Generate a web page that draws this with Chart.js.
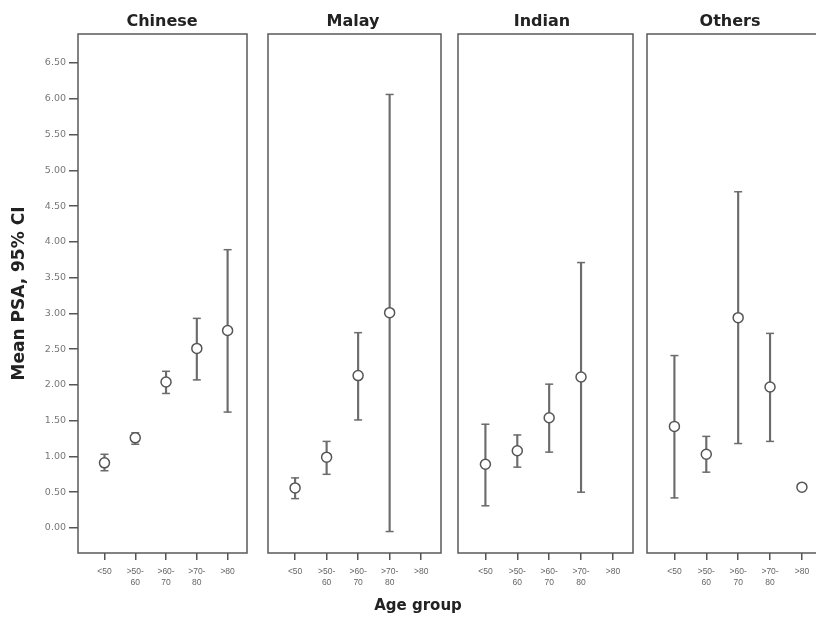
<!DOCTYPE html>
<html>
<head>
<meta charset="utf-8">
<script src="https://cdn.jsdelivr.net/npm/chart.js@4.4.1/dist/chart.umd.min.js"></script>
<style>
  body { margin: 0; width: 816px; height: 621px; overflow: hidden; background: #fff; position: relative; font-family: "DejaVu Sans", sans-serif; }
  .panel { position: absolute; top: 0; height: 621px; }
  .title { position: absolute; top: 11px; font-weight: bold; font-size: 16px; color: #222; transform: translateX(-50%); white-space: nowrap; }
  #xtitle { position: absolute; left: 418px; top: 596px; transform: translateX(-50%); font-weight: bold; font-size: 15px; color: #222; }
</style>
</head>
<body>
<div class="panel" style="left:0;width:250px"><canvas id="c0"></canvas></div>
<div class="panel" style="left:263px;width:183px"><canvas id="c1"></canvas></div>
<div class="panel" style="left:453px;width:185px"><canvas id="c2"></canvas></div>
<div class="panel" style="left:642px;width:185px"><canvas id="c3"></canvas></div>
<div class="title" style="left:162px">Chinese</div>
<div class="title" style="left:353px">Malay</div>
<div class="title" style="left:542px">Indian</div>
<div class="title" style="left:730px">Others</div>
<div id="xtitle">Age group</div>
<script>
// Age group labels (x axis)
const ageGroups = [['<50'], ['>50-', '60'], ['>60-', '70'], ['>70-', '80'], ['>80']];
const yTicks = [0, 0.5, 1, 1.5, 2, 2.5, 3, 3.5, 4, 4.5, 5, 5.5, 6, 6.5];

// Mean PSA and 95% CI per ethnic group
const chineseMean = [0.91, 1.26, 2.04, 2.51, 2.76];
const chineseLow  = [0.80, 1.17, 1.88, 2.07, 1.62];
const chineseHigh = [1.03, 1.33, 2.19, 2.93, 3.89];

const malayMean = [0.56, 0.99, 2.13, 3.01, null];
const malayLow  = [0.41, 0.75, 1.51, -0.05, null];
const malayHigh = [0.70, 1.21, 2.73, 6.06, null];

const indianMean = [0.89, 1.08, 1.54, 2.11, null];
const indianLow  = [0.31, 0.85, 1.06, 0.50, null];
const indianHigh = [1.45, 1.30, 2.01, 3.71, null];

const othersMean = [1.42, 1.03, 2.94, 1.97, 0.57];
const othersLow  = [0.42, 0.78, 1.18, 1.21, null];
const othersHigh = [2.41, 1.28, 4.70, 2.72, null];

Chart.defaults.font.family = '"Liberation Sans", Arial, sans-serif';
Chart.defaults.animation = false;

const lineColor = '#6c6c6c';

// panel frame around the plot area
const framePlugin = {
  id: 'frame',
  afterDraw(chart) {
    const a = chart.chartArea;
    const ctx = chart.ctx;
    ctx.save();
    ctx.strokeStyle = '#5a5a5a';
    ctx.lineWidth = 1.5;
    ctx.strokeRect(a.left, a.top, a.right - a.left, a.bottom - a.top);
    ctx.restore();
  }
};

function makePanel(id, mean, low, high, showY, pad) {
  const bars = [], caps = [], points = [];
  mean.forEach((m, i) => {
    if (m !== null) points.push({ x: i, y: m });
    if (low[i] !== null && high[i] !== null) {
      bars.push({ x: i, y: [low[i], high[i]] });
      caps.push({ x: i, y: low[i] }, { x: i, y: high[i] });
    }
  });

  new Chart(document.getElementById(id), {
    type: 'scatter',
    data: {
      datasets: [
        { type: 'bar', data: bars, backgroundColor: lineColor, barThickness: 1.5, order: 2 },
        { data: caps, pointStyle: 'line', pointRadius: 4, borderColor: lineColor, borderWidth: 1.5, order: 1 },
        { data: points, pointStyle: 'circle', pointRadius: 5, backgroundColor: '#fff', borderColor: '#555', borderWidth: 1.5, order: 0 }
      ]
    },
    options: {
      responsive: true,
      maintainAspectRatio: false,
      layout: { padding: pad, autoPadding: false },
      plugins: { legend: { display: false }, tooltip: { enabled: false } },
      scales: {
        x: {
          type: 'linear',
          offset: false,
          min: -0.86,
          max: 4.63,
          afterBuildTicks: (scale) => { scale.ticks = ageGroups.map((g, i) => ({ value: i })); },
          afterFit: (scale) => { scale.height = 68; scale.paddingLeft = 0; scale.paddingRight = 0; },
          border: { display: false },
          grid: { offset: false, drawOnChartArea: false, tickLength: 7, color: '#555', lineWidth: 1.5 },
          ticks: {
            color: '#666',
            font: { size: 8.5 },
            padding: 7,
            maxRotation: 0,
            autoSkip: false,
            callback: (v) => ageGroups[v]
          }
        },
        y: {
          display: showY,
          min: -0.35,
          max: 6.905,
          afterBuildTicks: (scale) => { scale.ticks = yTicks.map(v => ({ value: v })); },
          afterFit: (scale) => { if (showY) scale.width = 78; },
          border: { display: false },
          grid: { drawOnChartArea: false, tickLength: 9, color: '#555', lineWidth: 1.5 },
          ticks: {
            color: '#777',
            font: { family: '"DejaVu Sans", sans-serif', size: 9.5 },
            padding: 3,
            callback: (v) => v.toFixed(2)
          },
          title: {
            display: true,
            text: 'Mean PSA, 95% CI',
            color: '#222',
            font: { family: '"DejaVu Sans", sans-serif', size: 17, weight: 'bold' },
            padding: { top: 9, bottom: 0 }
          }
        }
      }
    },
    plugins: [framePlugin]
  });
}

makePanel('c0', chineseMean, chineseLow, chineseHigh, true, { left: 0, right: 3, top: 34, bottom: 0 });
makePanel('c1', malayMean, malayLow, malayHigh, false, { left: 5, right: 5, top: 34, bottom: 0 });
makePanel('c2', indianMean, indianLow, indianHigh, false, { left: 5, right: 5, top: 34, bottom: 0 });
makePanel('c3', othersMean, othersLow, othersHigh, false, { left: 5, right: 5, top: 34, bottom: 0 });
</script>
</body>
</html>
